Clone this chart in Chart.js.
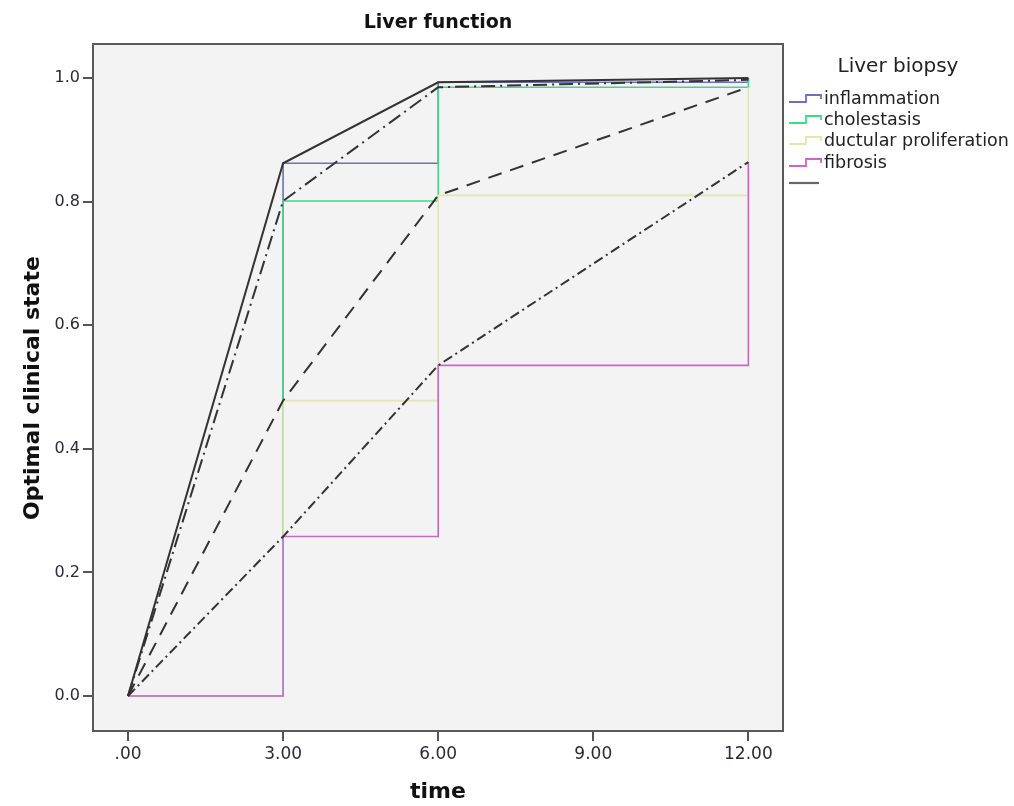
<!DOCTYPE html>
<html>
<head>
<meta charset="utf-8">
<script src="https://cdn.jsdelivr.net/npm/chart.js@4/dist/chart.umd.min.js"></script>
<style>
html,body{margin:0;padding:0;background:#fff;}
#wrap{width:1014px;height:806px;position:relative;}
</style>
</head>
<body>
<div id="wrap"><canvas id="c" width="1014" height="806"></canvas></div>
<script>
// ---- data ----
const times = [0, 3, 6, 12];
const inflammation = [0, 0.862, 0.993, 1.0];
const cholestasis = [0, 0.801, 0.985, 0.997];
const ductular = [0, 0.478, 0.810, 0.985];
const fibrosis = [0, 0.258, 0.535, 0.864];
const seriesNames = ['inflammation', 'cholestasis', 'ductular proliferation', 'fibrosis'];
const xTicks = [0, 3, 6, 9, 12];
const xTickLabels = ['.00', '3.00', '6.00', '9.00', '12.00'];
const yTicks = [0, 0.2, 0.4, 0.6, 0.8, 1.0];

const stepColors = ['#6f6fbf', '#3fd98a', '#e4e4b4', '#c768c7'];
const fitDashes = [[], [14, 5, 2, 5], [14, 9], [10, 4, 2, 4]];
const seriesVals = [inflammation, cholestasis, ductular, fibrosis];

const pts = arr => times.map((t, i) => ({x: t, y: arr[i]}));

const datasets = [];
seriesVals.forEach((arr, k) => {
  datasets.push({
    label: seriesNames[k],
    data: pts(arr),
    stepped: true,
    borderColor: stepColors[k],
    borderWidth: 1.6,
    pointRadius: 0,
    fill: false,
    order: 10 - k
  });
});
seriesVals.forEach((arr, k) => {
  datasets.push({
    label: 'fit ' + seriesNames[k],
    data: pts(arr),
    borderColor: '#333333',
    borderWidth: 2,
    borderDash: fitDashes[k],
    pointRadius: 0,
    fill: false,
    tension: 0,
    order: 1
  });
});

const font = '"DejaVu Sans", Verdana, sans-serif';

const deco = {
  id: 'deco',
  beforeDraw(chart) {
    const {ctx, chartArea: a} = chart;
    ctx.save();
    ctx.fillStyle = '#f3f3f3';
    ctx.fillRect(a.left, a.top, a.right - a.left, a.bottom - a.top);
    ctx.restore();
  },
  afterDraw(chart) {
    const {ctx, chartArea: a} = chart;
    ctx.save();
    // frame
    ctx.strokeStyle = '#5a5a5a';
    ctx.lineWidth = 2;
    ctx.strokeRect(a.left, a.top, a.right - a.left, a.bottom - a.top);
    // title
    ctx.fillStyle = '#111';
    ctx.textAlign = 'center';
    ctx.textBaseline = 'middle';
    ctx.font = 'bold 19px ' + font;
    ctx.fillText('Liver function', (a.left + a.right) / 2, 23);
    // x axis title
    ctx.font = 'bold 22px ' + font;
    ctx.fillText('time', (a.left + a.right) / 2, 792);
    // y axis title
    ctx.save();
    ctx.translate(33, 388);
    ctx.rotate(-Math.PI / 2);
    ctx.font = 'bold 22px ' + font;
    ctx.fillText('Optimal clinical state', 0, 0);
    ctx.restore();
    // legend
    ctx.font = '20px ' + font;
    ctx.fillStyle = '#222';
    ctx.textAlign = 'center';
    ctx.fillText('Liver biopsy', 898, 67);
    ctx.font = '17.5px ' + font;
    ctx.textAlign = 'left';
    const rowY = [99, 120, 141, 163];
    seriesNames.forEach((n, k) => {
      const y = rowY[k];
      ctx.strokeStyle = stepColors[k];
      ctx.lineWidth = 1.8;
      ctx.beginPath();
      ctx.moveTo(789, y + 3);
      ctx.lineTo(806, y + 3);
      ctx.lineTo(806, y - 4);
      ctx.lineTo(821, y - 4);
      ctx.lineTo(821, y);
      ctx.stroke();
      ctx.fillStyle = '#222';
      ctx.fillText(n, 824, y);
    });
    ctx.strokeStyle = '#666';
    ctx.lineWidth = 2.2;
    ctx.beginPath();
    ctx.moveTo(789, 183);
    ctx.lineTo(819, 183);
    ctx.stroke();
    ctx.restore();
  }
};

new Chart(document.getElementById('c'), {
  type: 'line',
  data: {datasets},
  options: {
    responsive: false,
    animation: false,
    devicePixelRatio: 1,
    layout: {padding: {top: 44, right: 231, left: 0, bottom: 0}},
    plugins: {legend: {display: false}, tooltip: {enabled: false}, title: {display: false}},
    scales: {
      x: {
        type: 'linear',
        min: -0.677,
        max: 12.67,
        afterFit(s) { s.height = 75; },
        afterBuildTicks(s) { s.ticks = xTicks.map(v => ({value: v})); },
        grid: {drawOnChartArea: false, drawTicks: true, tickLength: 10, color: '#555', lineWidth: 2},
        border: {display: true, color: '#5a5a5a', width: 2},
        ticks: {
          autoSkip: false,
          maxRotation: 0,
          padding: 3,
          color: '#2a2a3a',
          font: {size: 17, family: font},
          callback(v) { const i = xTicks.indexOf(v); return i >= 0 ? xTickLabels[i] : ''; }
        }
      },
      y: {
        type: 'linear',
        min: -0.0566,
        max: 1.055,
        afterFit(s) { s.width = 93; },
        afterBuildTicks(s) { s.ticks = yTicks.map(v => ({value: v})); },
        grid: {drawOnChartArea: false, drawTicks: true, tickLength: 10, color: '#555', lineWidth: 2},
        border: {display: true, color: '#5a5a5a', width: 2},
        ticks: {
          autoSkip: false,
          padding: 3,
          color: '#2a2a3a',
          font: {size: 16, family: font},
          callback(v) { return v.toFixed(1); }
        }
      }
    }
  },
  plugins: [deco]
});
</script>
</body>
</html>
